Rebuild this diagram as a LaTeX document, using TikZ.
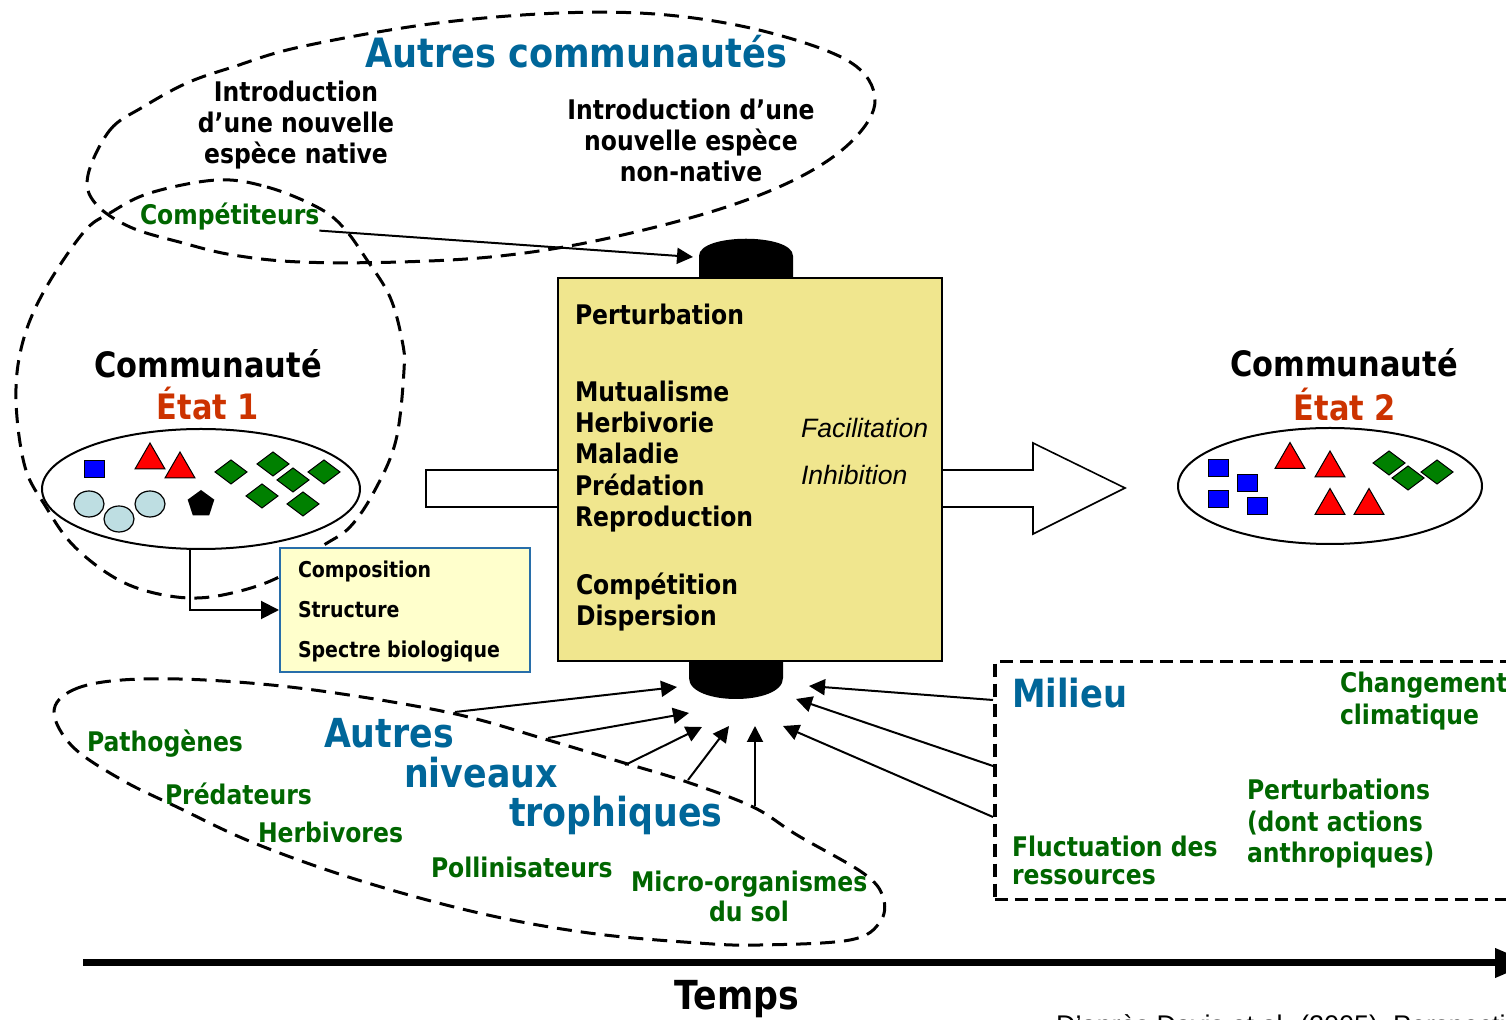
\documentclass[tikz,border=0pt]{standalone}
\usepackage{fontspec}
\setmainfont{DejaVu Sans}
\newfontfamily\tb{DejaVu Sans}[FakeStretch=0.87]
\newfontfamily\ar{Liberation Sans}
\usetikzlibrary{arrows.meta,shapes.geometric}
\definecolor{ttlblue}{RGB}{0,102,153}
\definecolor{dgreen}{RGB}{0,102,0}
\definecolor{etat}{RGB}{204,51,0}
\definecolor{khaki}{RGB}{240,230,142}
\definecolor{paleyel}{RGB}{255,255,204}
\definecolor{boxblue}{RGB}{40,110,170}
\definecolor{shgreen}{RGB}{0,128,0}
\definecolor{lblue}{RGB}{190,222,226}
\tikzset{
  lbl/.style={inner sep=0pt, outer sep=0pt},
  f135/.style={lbl, font=\tb\bfseries\fontsize{13.5}{16}\selectfont},
  blk/.style={f135, anchor=base},
  blkw/.style={f135, anchor=base west},
  grn/.style={f135, text=dgreen, anchor=base west},
  bigblue/.style={lbl, font=\tb\bfseries\fontsize{20}{24}\selectfont, text=ttlblue, anchor=base west},
  commlbl/.style={lbl, font=\tb\bfseries\fontsize{17.5}{21}\selectfont, anchor=base},
  smalllbl/.style={lbl, font=\tb\bfseries\fontsize{10.9}{13}\selectfont, anchor=base west},
  itl/.style={lbl, font=\ar\itshape\fontsize{13.3}{16}\selectfont, anchor=base west},
  dashline/.style={line width=1.5pt, dash pattern=on 7.5pt off 4.5pt},
  arr/.style={line width=1pt, -{Triangle[length=8pt,width=8pt]}},
  redtri/.pic={\filldraw[fill=red,draw=black,line width=0.5pt] (0,-13) -- (15,13) -- (-15,13) -- cycle;},
  bluesq/.pic={\filldraw[fill=blue,draw=black,line width=0.5pt] (-10,-8.5) rectangle (10,8.5);},
  grndia/.pic={\filldraw[fill=shgreen,draw=black,line width=0.5pt] (-16,0) -- (0,-12) -- (16,0) -- (0,12) -- cycle;},
  lbcirc/.pic={\filldraw[fill=lblue,draw=black,line width=0.6pt] (0,0) ellipse [x radius=7.5pt, y radius=6.5pt];},
  pent/.pic={\fill[black] (0,-14) -- (13.3,-4.3) -- (8.2,11.3) -- (-8.2,11.3) -- (-13.3,-4.3) -- cycle;},
}
\begin{document}
\begin{tikzpicture}[x=0.5pt,y=-0.5pt]
\useasboundingbox (0,0) rectangle (1506,1020);
\clip (0,0) rectangle (1506,1020);

% ---------- big arrow (behind the box)
\filldraw[fill=white,draw=black,line width=0.8pt] (426,470) -- (1033,470) -- (1033,443) -- (1125,488) -- (1033,534) -- (1033,507) -- (426,507) -- cycle;

% ---------- cylinders
\fill (699,278) -- (699,256) .. controls (699,233) and (793,233) .. (793,256) -- (793,278) -- cycle;
\fill (689,659) -- (689,678) .. controls (689,706) and (783,706) .. (783,678) -- (783,659) -- cycle;

% ---------- central box
\node[draw=black, fill=khaki, line width=1pt, minimum width=192pt, minimum height=191.5pt, inner sep=0pt, anchor=north west] (inter) at (557,277) {};
\node[blkw] (pert) at (575,325) {Perturbation};
\node[blkw] (mutu) at (575,402) {Mutualisme};
\node[blkw] (herb) at (575,433) {Herbivorie};
\node[blkw] (mala) at (575,464) {Maladie};
\node[blkw] (pred) at (575,496) {Prédation};
\node[blkw] (repr) at (575,527) {Reproduction};
\node[blkw] (comp2) at (576,595) {Compétition};
\node[blkw] (disp) at (576,626) {Dispersion};
\node[itl] (faci) at (801,438) {Facilitation};
\node[itl] (inhi) at (801,485) {Inhibition};

% ---------- top dashed outline (Autres communautes)
\draw[dashline] plot[smooth cycle, tension=0.6] coordinates {(88,175) (110,130) (143,107) (187,83) (233,67) (300,47) (430,24) (560,13) (667,15) (767,32) (850,62) (875,100) (853,140) (800,177) (717,210) (600,240) (500,256) (400,262) (300,262) (233,255) (183,243) (130,227) (95,203)};
\node[lbl, font=\tb\bfseries\fontsize{20.2}{24}\selectfont, text=ttlblue, anchor=base] (autcom) at (576,68) {Autres communautés};
\node[blk] (in1a) at (296,102) {Introduction};
\node[blk] (in1b) at (296,133) {d’une nouvelle};
\node[blk] (in1c) at (296,164) {espèce native};
\node[blk] (in2a) at (691,120) {Introduction d’une};
\node[blk] (in2b) at (691,151) {nouvelle espèce};
\node[blk] (in2c) at (691,182) {non-native};

% ---------- left dashed circle
\draw[dashline] plot[smooth cycle, tension=0.6] coordinates {(217,180) (267,187) (317,207) (343,227) (367,260) (390,297) (402,340) (404,370) (396,440) (375,490) (350,527) (321,547) (279,577) (232,593) (189,598) (143,590) (107,573) (71,543) (46,507) (25,467) (16,400) (22,345) (43,293) (83,233) (110,213) (150,193)};
\node[grn] (compet) at (140,225) {Compétiteurs};
\coordinate (toptip) at (693,257);
\draw[arr] (compet.south east) -- (toptip);

% ---------- community 1
\node[commlbl] (c1t) at (208,378) {Communauté};
\node[commlbl, text=etat] (c1e) at (208,420) {État 1};
\node[draw, ellipse, fill=white, line width=1pt, minimum width=159pt, minimum height=60pt, inner sep=0pt] (comm1) at (201,489) {};
\pic at (94,469) {bluesq};
\pic at (150,456) {redtri};
\pic at (180,465) {redtri};
\pic at (231,472) {grndia};
\pic at (273,464) {grndia};
\pic at (293,480) {grndia};
\pic at (324,472) {grndia};
\pic at (262,496) {grndia};
\pic at (303,504) {grndia};
\pic at (89,504) {lbcirc};
\pic at (150,504) {lbcirc};
\pic at (119,519) {lbcirc};
\pic at (201,504) {pent};

% ---------- composition box
\node[draw=boxblue, fill=paleyel, line width=1pt, minimum width=125pt, minimum height=62pt, inner sep=0pt] (comp) at (405,610) {};
\node[smalllbl] (cpo) at (298,578) {Composition};
\node[smalllbl] (str) at (298,618) {Structure};
\node[smalllbl] (spe) at (298,658) {Spectre biologique};
\coordinate (c1s) at (190,548);
\draw[line width=1pt, -{Triangle[length=9pt,width=9pt]}] (c1s) |- (comp.west);

% ---------- community 2
\node[commlbl] (c2t) at (1344,377) {Communauté};
\node[commlbl, text=etat] (c2e) at (1345,421) {État 2};
\node[draw, ellipse, fill=white, line width=1pt, minimum width=152pt, minimum height=58pt, inner sep=0pt] (comm2) at (1330,486) {};
\pic at (1218,468) {bluesq};
\pic at (1247,483) {bluesq};
\pic at (1218,499) {bluesq};
\pic at (1257,506) {bluesq};
\pic at (1290,455.5) {redtri};
\pic at (1330,464) {redtri};
\pic at (1330,501.5) {redtri};
\pic at (1369,501.5) {redtri};
\pic at (1389,463) {grndia};
\pic at (1408,478) {grndia};
\pic at (1437,472) {grndia};

% ---------- bottom dashed outline (autres niveaux trophiques)
\draw[dashline] plot[smooth cycle, tension=0.6] coordinates {(54,712) (73,690) (122,680) (205,680) (314,690) (451,713) (548,740) (621,762) (687,782) (753,807) (797,835) (863,873) (883,897) (880,922) (850,940) (760,945) (698,943) (589,933) (479,913) (358,880) (254,843) (177,807) (122,780) (73,747)};
\node[grn] (patho) at (87,752) {Pathogènes};
\node[grn] (preda) at (165,805) {Prédateurs};
\node[grn] (herbi) at (258,843) {Herbivores};
\node[grn] (polli) at (431,878) {Pollinisateurs};
\node[grn] (micro) at (631,892) {Micro-organismes};
\node[grn] (dusol) at (709,922) {du sol};
\node[bigblue] (anA) at (324,748) {Autres};
\node[bigblue] (anB) at (404,788) {niveaux};
\node[bigblue] (anC) at (509,827) {trophiques};

% ---------- milieu box
\node[draw, line width=1.75pt, dash pattern=on 6.5pt off 3.5pt, minimum width=300pt, minimum height=119pt, inner sep=0pt, anchor=north west] (milieu) at (993,660) {};
\node[lbl, font=\tb\bfseries\fontsize{19.4}{23}\selectfont, text=ttlblue, anchor=base west] (milt) at (1012,708) {Milieu};
\node[grn] (chg1) at (1340,693) {Changement};
\node[grn] (chg2) at (1340,725) {climatique};
\node[grn] (per1) at (1247,800) {Perturbations};
\node[grn] (per2) at (1247,832) {(dont actions};
\node[grn] (per3) at (1247,863) {anthropiques)};
\node[grn] (flu1) at (1012,857) {Fluctuation des};
\node[grn] (flu2) at (1012,885) {ressources};

% ---------- arrows into the bottom cylinder
\coordinate (s1) at (455,712);
\coordinate (s2) at (548,738);
\coordinate (s3) at (625,765);
\coordinate (s4) at (688,780);
\coordinate (s5) at (755,806);
\coordinate (m1) at (993,700);
\coordinate (m2) at (993,766);
\coordinate (m3) at (993,817);
\coordinate (b1) at (677,687);
\coordinate (b2) at (689,713);
\coordinate (b3) at (702,727);
\coordinate (b4) at (729,726);
\coordinate (b5) at (755,726);
\coordinate (b6) at (783,726);
\coordinate (b7) at (796,699);
\coordinate (b8) at (809,686);
\draw[arr] (s1) -- (b1);
\draw[arr] (s2) -- (b2);
\draw[arr] (s3) -- (b3);
\draw[arr] (s4) -- (b4);
\draw[arr] (s5) -- (b5);
\draw[arr] (m3) -- (b6);
\draw[arr] (m2) -- (b7);
\draw[arr] (m1) -- (b8);

% ---------- time axis
\coordinate (t0) at (83,963);
\coordinate (t1) at (1531,963);
\draw[line width=3.5pt, -{Triangle[length=18pt,width=14pt]}] (t0) -- (t1);
\node[lbl, font=\tb\bfseries\fontsize{20}{24}\selectfont, anchor=base] (temps) at (737,1010) {Temps};
\node[lbl, font=\ar\fontsize{13.5}{16}\selectfont, anchor=base west] (cite) at (1056,1035) {D’après Davis et al. (2005), Perspecti};
\end{tikzpicture}
\end{document}
